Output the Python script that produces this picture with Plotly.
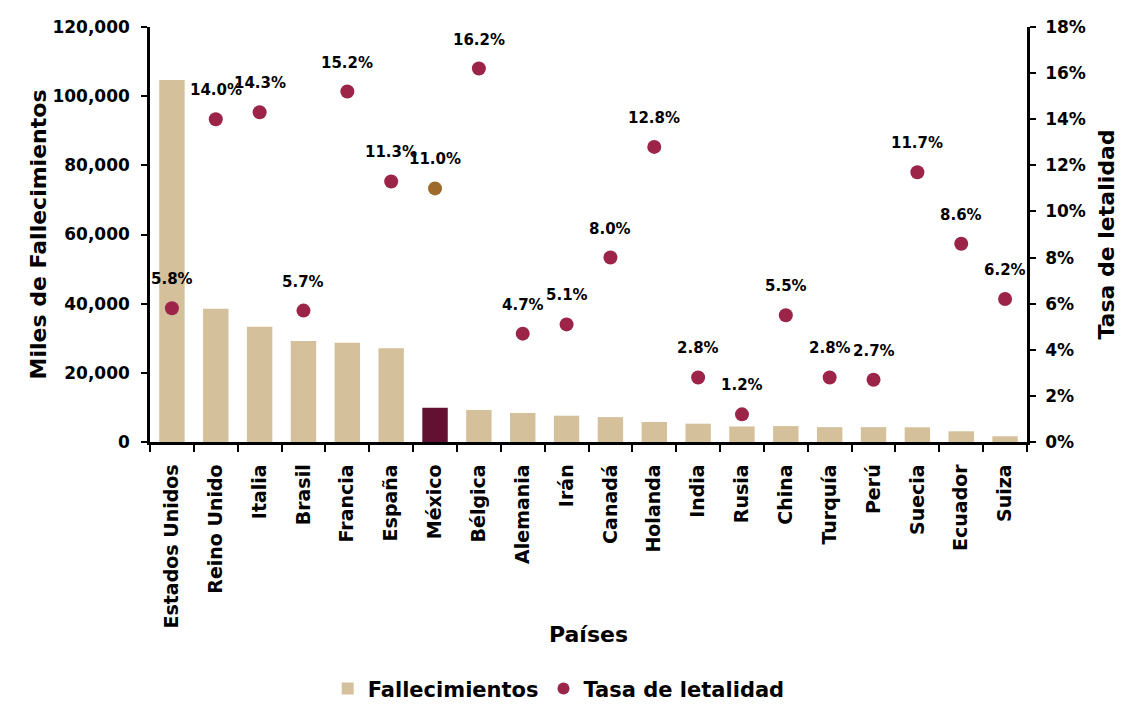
import plotly.graph_objects as go

paises = ["Estados Unidos", "Reino Unido", "Italia", "Brasil", "Francia", "España", "México",
          "Bélgica", "Alemania", "Irán", "Canadá", "Holanda", "India", "Rusia", "China",
          "Turquía", "Perú", "Suecia", "Ecuador", "Suiza"]
fallecimientos = [104700, 38500, 33300, 29200, 28700, 27100, 9900, 9250, 8400, 7600,
                  7200, 5800, 5300, 4500, 4600, 4300, 4300, 4250, 3100, 1650]
tasa = [5.8, 14.0, 14.3, 5.7, 15.2, 11.3, 11.0, 16.2, 4.7, 5.1, 8.0, 12.8, 2.8, 1.2, 5.5,
        2.8, 2.7, 11.7, 8.6, 6.2]

BAR = "#D4C19C"
MEX_BAR = "#621132"
DOT = "#9D2449"
MEX_DOT = "#9E6A2B"
FONT = "DejaVu Sans"

bar_colors = [MEX_BAR if p == "México" else BAR for p in paises]
dot_colors = [MEX_DOT if p == "México" else DOT for p in paises]

fig = go.Figure()
fig.add_trace(go.Bar(x=paises, y=fallecimientos, name="Fallecimientos",
                     marker=dict(color=bar_colors, line=dict(width=0)), yaxis="y"))
fig.add_trace(go.Scatter(x=paises, y=[t / 100 for t in tasa], name="Tasa de letalidad",
                         mode="markers", marker=dict(color=dot_colors, size=14), yaxis="y2"))

for p, t in zip(paises, tasa):
    fig.add_annotation(x=p, y=t / 100, yref="y2", text=f"<b>{t:.1f}%</b>", showarrow=False,
                       yshift=29, font=dict(family=FONT, size=15, color="black"))

axis_common = dict(showline=True, linecolor="black", linewidth=2.5, ticks="outside",
                   tickwidth=2, tickcolor="black", showgrid=False, zeroline=False,
                   automargin=False)

tickfont_y = dict(family=FONT, size=17, color="black", weight="bold")
tickfont_x = dict(family=FONT, size=19, color="black", weight="bold")

fig.update_layout(
    width=1115, height=696,
    margin=dict(l=142, r=96, t=19, b=262, autoexpand=False),
    plot_bgcolor="white", paper_bgcolor="white",
    bargap=0.42,
    font=dict(family=FONT, color="black"),
    xaxis=dict(**axis_common, tickfont=tickfont_x, tickangle=-90, tickson="boundaries", ticklen=7,
               ticklabelstandoff=12,
               range=[-0.5, len(paises) - 0.5],
               title=dict(text="<b>Países</b>", font=dict(family=FONT, size=22), standoff=0)),
    yaxis=dict(**axis_common, tickfont=tickfont_y, ticklen=6, ticklabelstandoff=8,
               range=[0, 120000], dtick=20000, tickformat=",d",
               title=dict(text="<b>Miles de Fallecimientos</b>", font=dict(family=FONT, size=22), standoff=0)),
    yaxis2=dict(**axis_common, tickfont=tickfont_y, ticklen=6, ticklabelstandoff=6,
                overlaying="y", side="right", range=[0, 0.18], dtick=0.02,
                tickformat=".0%",
                title=dict(text="<b>Tasa de letalidad</b>", font=dict(family=FONT, size=22), standoff=14)),
    legend=dict(orientation="h", x=0.466, xanchor="center", y=-0.595, yanchor="middle",
                font=dict(family=FONT, size=21, weight="bold"), itemsizing="constant",
                tracegroupgap=0),
)

fig.write_html("out.html")
